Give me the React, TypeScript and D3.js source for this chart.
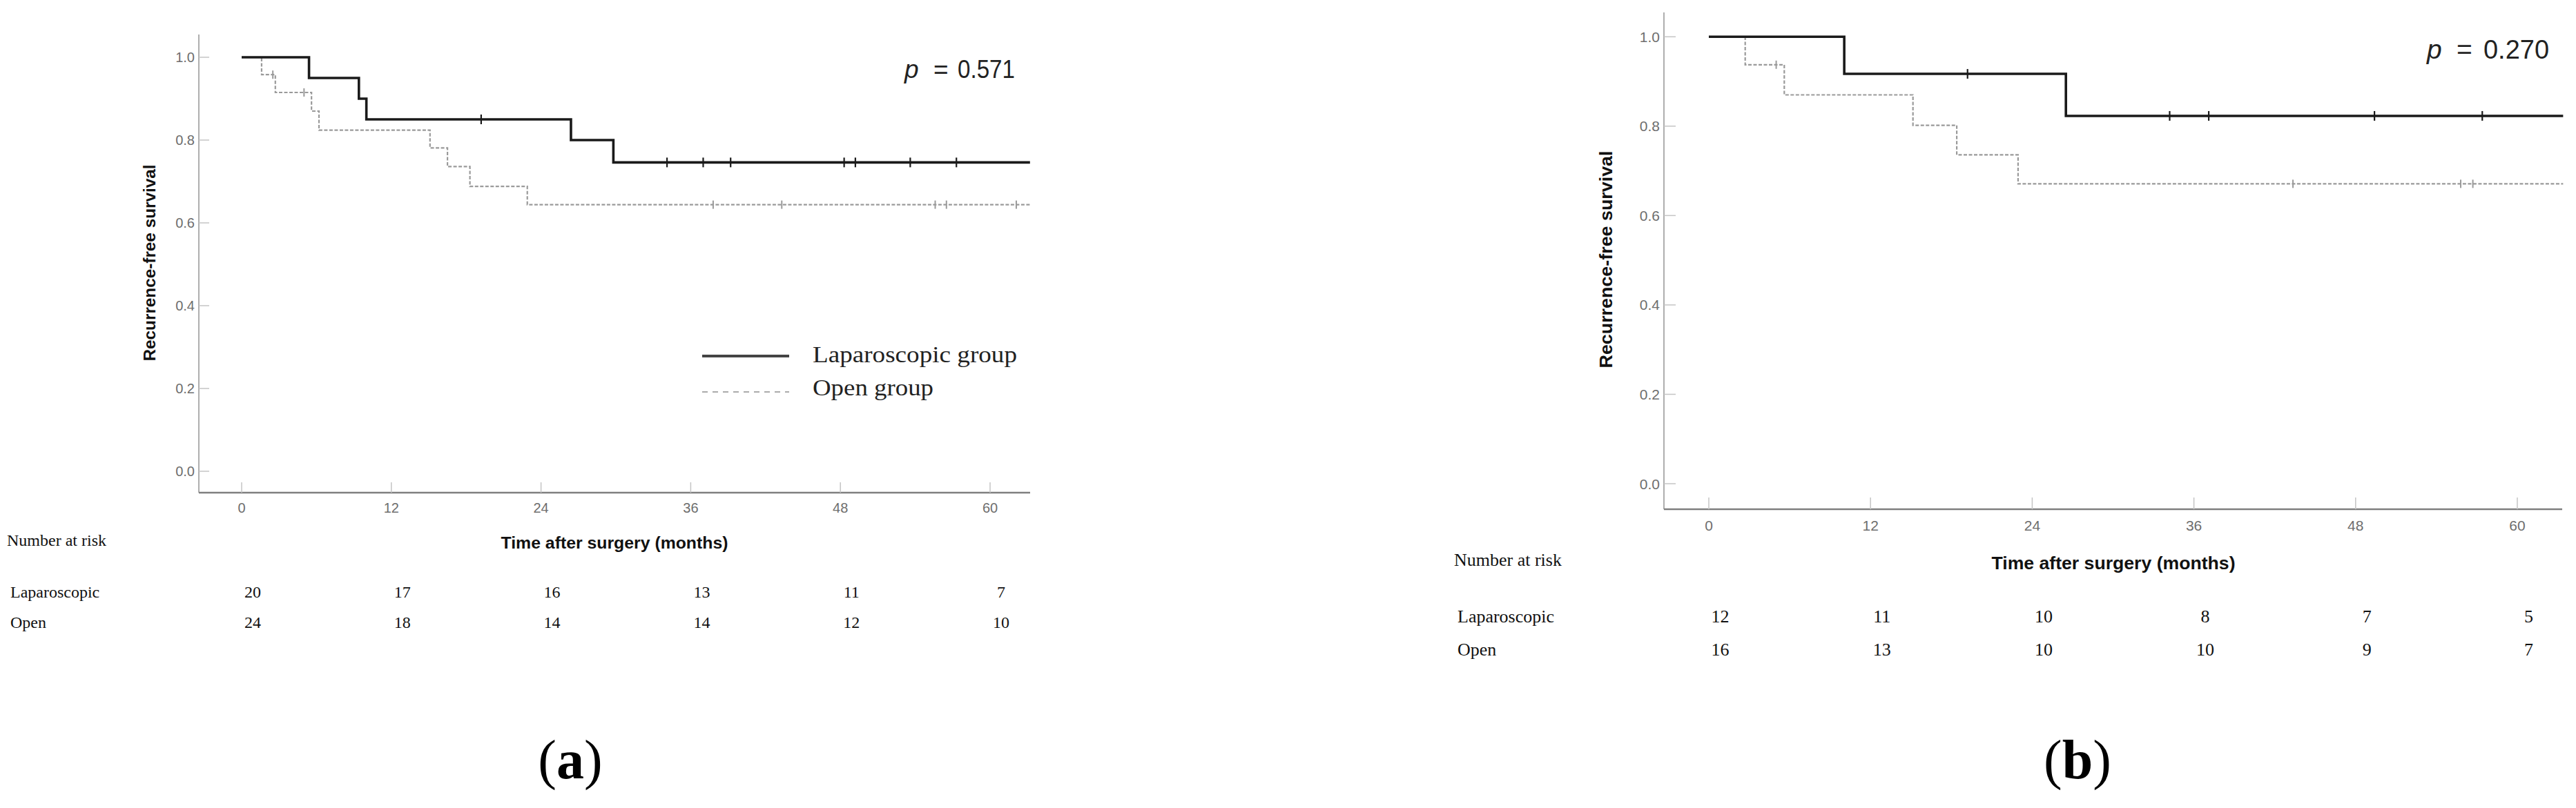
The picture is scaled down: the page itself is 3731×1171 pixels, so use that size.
import React from "react";
import * as d3 from "d3";

// ---------- data ----------
const monthTicks = [0, 12, 24, 36, 48, 60];
const survivalTicks = [0.0, 0.2, 0.4, 0.6, 0.8, 1.0];
const groupNames = ["Laparoscopic", "Open"];
const legendLabels = ["Laparoscopic group", "Open group"];

// Panel (a)
const lapTimesA = [0, 5.4, 9.4, 10.0, 26.4, 29.8];
const lapSurvA = [1.0, 0.95, 0.9, 0.85, 0.8, 0.746];
const lapCensorA = [19.2, 34.1, 37.0, 39.2, 48.3, 49.2, 53.6, 57.3];
const openTimesA = [0, 1.6, 2.7, 5.6, 6.2, 15.1, 16.5, 18.3, 22.9];
const openSurvA = [1.0, 0.958, 0.915, 0.87, 0.824, 0.781, 0.736, 0.688, 0.644];
const openCensorA = [2.5, 5.0, 37.8, 43.3, 55.6, 56.5, 62.1];
const endTimeA = 63.2;
const atRiskLapA = [20, 17, 16, 13, 11, 7];
const atRiskOpenA = [24, 18, 14, 14, 12, 10];
const pValueA = "0.571";

// Panel (b)
const lapTimesB = [0, 10.05, 26.5];
const lapSurvB = [1.0, 0.917, 0.823];
const lapCensorB = [19.2, 34.2, 37.1, 49.4, 57.4];
const openTimesB = [0, 2.7, 5.6, 15.15, 18.4, 22.95];
const openSurvB = [1.0, 0.9375, 0.87, 0.802, 0.736, 0.671];
const openCensorB = [5.0, 43.35, 55.8, 56.7];
const endTimeB = 63.4;
const atRiskLapB = [12, 11, 10, 8, 7, 5];
const atRiskOpenB = [16, 13, 10, 10, 9, 7];
const pValueB = "0.270";

// ---------- layout ----------
const layoutA = {
  x0: 350, x60: 1434, axisLeft: 288, axisRight: 1492,
  yOne: 83, yZero: 683, axisTop: 50, axisBottom: 714,
  tickLen: 15, tickFont: 20, xTickBase: 743,
  yLabelX: 216, yLabelY: 381, yLabelLen: 285, yLabelFont: 24,
  timeX: 890, timeBase: 795, timeLen: 329, timeFont: 23,
  narX: 10, narBase: 791, riskFont: 24,
  lapLabelX: 15, lapBase: 866, openBase: 910, riskOffset: 16,
  pX: 1310, eqX: 1352, numX: 1387, pBase: 113, numLen: 83, pFont: 37,
  captionX: 826, captionBase: 1128, caption: "a",
};
const layoutB = {
  x0: 2475, x60: 3646, axisLeft: 2410, axisRight: 3711,
  yOne: 53.3, yZero: 701, axisTop: 18, axisBottom: 738,
  tickLen: 17, tickFont: 21, xTickBase: 769,
  yLabelX: 2326, yLabelY: 376, yLabelLen: 315, yLabelFont: 26,
  timeX: 3061, timeBase: 825, timeLen: 353, timeFont: 25,
  narX: 2106, narBase: 820, riskFont: 26,
  lapLabelX: 2111, lapBase: 902, openBase: 950, riskOffset: 16.5,
  pX: 3515, eqX: 3558, numX: 3597, pBase: 85, numLen: 95, pFont: 39,
  captionX: 3009, captionBase: 1128, caption: "b",
};

const SANS = "'Liberation Sans', Arial, sans-serif";
const SERIF = "'Liberation Serif', 'Times New Roman', serif";

function survAt(times: number[], surv: number[], t: number) {
  let v = surv[0];
  for (let i = 0; i < times.length; i++) if (times[i] <= t) v = surv[i];
  return v;
}

function Panel(props: any) {
  const { L, lapT, lapS, lapC, openT, openS, openC, endT, riskLap, riskOpen, pVal, legend } = props;
  const x = d3.scaleLinear().domain([0, 60]).range([L.x0, L.x60]);
  const y = d3.scaleLinear().domain([0, 1]).range([L.yZero, L.yOne]);
  const line = d3
    .line<[number, number]>()
    .x((d) => x(d[0]))
    .y((d) => y(d[1]))
    .curve(d3.curveStepAfter);
  const pts = (T: number[], S: number[]) => {
    const p: [number, number][] = T.map((t, i) => [t, S[i]]);
    p.push([endT, S[S.length - 1]]);
    return p;
  };
  const lapPath = line(pts(lapT, lapS)) || "";
  const openPath = line(pts(openT, openS)) || "";
  return (
    <g>
      {/* axes */}
      <line x1={L.axisLeft} x2={L.axisLeft} y1={L.axisTop} y2={L.axisBottom} stroke="#9a9a9a" strokeWidth={1.6} />
      <line x1={L.axisLeft} x2={L.axisRight} y1={L.axisBottom} y2={L.axisBottom} stroke="#7f7f7f" strokeWidth={2.6} />
      {survivalTicks.map((v) => (
        <g key={"y" + v}>
          <line x1={L.axisLeft} x2={L.axisLeft + L.tickLen} y1={y(v)} y2={y(v)} stroke="#c4c4c4" strokeWidth={1.5} />
          <text x={L.axisLeft - 6} y={y(v) + L.tickFont * 0.36} textAnchor="end" fontFamily={SANS} fontSize={L.tickFont} fill="#6e6e6e">
            {v.toFixed(1)}
          </text>
        </g>
      ))}
      {monthTicks.map((m) => (
        <g key={"x" + m}>
          <line x1={x(m)} x2={x(m)} y1={L.axisBottom - L.tickLen} y2={L.axisBottom} stroke="#c4c4c4" strokeWidth={1.5} />
          <text x={x(m)} y={L.xTickBase} textAnchor="middle" fontFamily={SANS} fontSize={L.tickFont} fill="#6e6e6e">
            {m}
          </text>
        </g>
      ))}
      <text
        transform={`translate(${L.yLabelX + L.yLabelFont * 0.36},${L.yLabelY}) rotate(-90)`}
        textAnchor="middle" fontFamily={SANS} fontWeight="bold" fontSize={L.yLabelFont} fill="#111"
        textLength={L.yLabelLen} lengthAdjust="spacingAndGlyphs"
      >
        Recurrence-free survival
      </text>
      <text x={L.timeX} y={L.timeBase} textAnchor="middle" fontFamily={SANS} fontWeight="bold" fontSize={L.timeFont} fill="#111"
        textLength={L.timeLen} lengthAdjust="spacingAndGlyphs">
        Time after surgery (months)
      </text>

      {/* curves */}
      <path d={openPath} fill="none" stroke="#9a9a9a" strokeWidth={2.2} strokeDasharray="5,2.5" />
      {openC.map((c: number, i: number) => (
        <line key={"oc" + i} x1={x(c)} x2={x(c)} y1={y(survAt(openT, openS, c)) - 6} y2={y(survAt(openT, openS, c)) + 6} stroke="#9a9a9a" strokeWidth={2} />
      ))}
      <path d={lapPath} fill="none" stroke="#1a1a1a" strokeWidth={3.6} />
      {lapC.map((c: number, i: number) => (
        <line key={"lc" + i} x1={x(c)} x2={x(c)} y1={y(survAt(lapT, lapS, c)) - 7} y2={y(survAt(lapT, lapS, c)) + 7} stroke="#1a1a1a" strokeWidth={2.2} />
      ))}

      {/* p value */}
      <text x={L.pX} y={L.pBase} fontFamily={SANS} fontStyle="italic" fontSize={L.pFont} fill="#222">p</text>
      <text x={L.eqX} y={L.pBase} fontFamily={SANS} fontSize={L.pFont} fill="#222">=</text>
      <text x={L.numX} y={L.pBase} fontFamily={SANS} fontSize={L.pFont} fill="#222" textLength={L.numLen} lengthAdjust="spacingAndGlyphs">{pVal}</text>

      {/* number at risk */}
      <text x={L.narX} y={L.narBase} fontFamily={SERIF} fontSize={L.riskFont} fill="#111">Number at risk</text>
      <text x={L.lapLabelX} y={L.lapBase} fontFamily={SERIF} fontSize={L.riskFont} fill="#111">{groupNames[0]}</text>
      <text x={L.lapLabelX} y={L.openBase} fontFamily={SERIF} fontSize={L.riskFont} fill="#111">{groupNames[1]}</text>
      {monthTicks.map((m, i) => (
        <g key={"r" + m}>
          <text x={x(m) + L.riskOffset} y={L.lapBase} textAnchor="middle" fontFamily={SERIF} fontSize={L.riskFont} fill="#111">{riskLap[i]}</text>
          <text x={x(m) + L.riskOffset} y={L.openBase} textAnchor="middle" fontFamily={SERIF} fontSize={L.riskFont} fill="#111">{riskOpen[i]}</text>
        </g>
      ))}

      {/* caption */}
      <text x={L.captionX} y={L.captionBase} textAnchor="middle" fontFamily={SERIF} fontSize={80} fill="#000">
        (<tspan fontWeight="bold">{L.caption}</tspan>)
      </text>

      {legend && (
        <g>
          <line x1={1017} x2={1143} y1={516} y2={516} stroke="#444" strokeWidth={4} />
          <line x1={1017} x2={1143} y1={568} y2={568} stroke="#aaa" strokeWidth={2.2} strokeDasharray="8,7" />
          <text x={1177} y={525} fontFamily={SERIF} fontSize={34} fill="#222" textLength={296} lengthAdjust="spacingAndGlyphs">{legendLabels[0]}</text>
          <text x={1177} y={573} fontFamily={SERIF} fontSize={34} fill="#222" textLength={175} lengthAdjust="spacingAndGlyphs">{legendLabels[1]}</text>
        </g>
      )}
    </g>
  );
}

export default function App() {
  return (
    <svg
      width={3731}
      height={1171}
      viewBox="0 0 3731 1171"
      style={{ position: "absolute", left: 0, top: 0, background: "#fff" }}
    >
      <rect width={3731} height={1171} fill="#fff" />
      <Panel L={layoutA} lapT={lapTimesA} lapS={lapSurvA} lapC={lapCensorA} openT={openTimesA} openS={openSurvA}
        openC={openCensorA} endT={endTimeA} riskLap={atRiskLapA} riskOpen={atRiskOpenA} pVal={pValueA} legend={true} />
      <Panel L={layoutB} lapT={lapTimesB} lapS={lapSurvB} lapC={lapCensorB} openT={openTimesB} openS={openSurvB}
        openC={openCensorB} endT={endTimeB} riskLap={atRiskLapB} riskOpen={atRiskOpenB} pVal={pValueB} legend={false} />
    </svg>
  );
}
